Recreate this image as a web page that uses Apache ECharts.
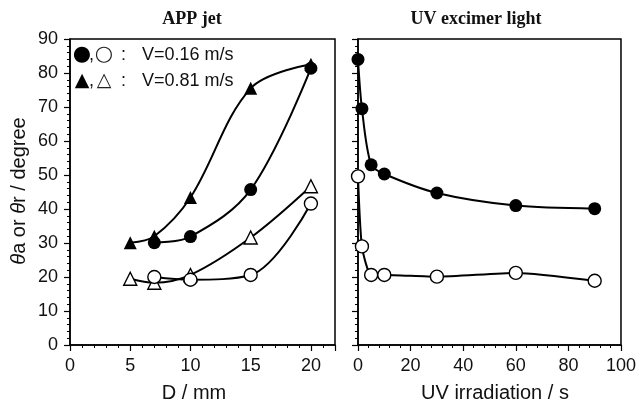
<!DOCTYPE html>
<html><head><meta charset="utf-8">
<script src="https://cdn.jsdelivr.net/npm/echarts@6/dist/echarts.min.js"></script>
<style>html,body{margin:0;padding:0;background:#fff}#c{width:639px;height:403px}</style>
</head><body><div id="c"></div>
<script>
// Left panel (APP jet): D / mm
const dFillCircle = [7, 10, 15, 20];
const vFillCircle = [30.1, 31.9, 45.7, 81.4];
const dFillTri = [5, 7, 10, 15, 20];
const vFillTri = [30.1, 32.0, 43.4, 75.5, 82.6];
const dOpenCircle = [7, 10, 15, 20];
const vOpenCircle = [20.0, 19.2, 20.6, 41.6];
const dOpenTri = [5, 7, 10, 15, 20];
const vOpenTri = [19.5, 18.3, 20.6, 31.6, 46.7];
// Right panel (UV excimer light)
const uvTime = [0, 1.5, 5, 10, 30, 60, 90];
const uvFill = [84.0, 69.5, 53.0, 50.3, 44.7, 41.0, 40.1];
const uvOpen = [49.6, 29.0, 20.6, 20.6, 20.1, 21.2, 18.9];
const yTicks = [0, 10, 20, 30, 40, 50, 60, 70, 80, 90];
const legendLines = [
  {fill: '●', open: '○', label: 'V=0.16 m/s'},
  {fill: '▲', open: '△', label: 'V=0.81 m/s'}
];

const zip = (a, b) => a.map((x, i) => [x, b[i]]);
const TF = 'Liberation Sans';
const axisCommon = {
  axisLine: {show: true, onZero: false, lineStyle: {color: '#000', width: 1.5}},
  axisTick: {show: true, inside: false, length: 6, lineStyle: {color: '#000', width: 1.2}},
  minorTick: {show: true, splitNumber: 5, length: 3, lineStyle: {color: '#000', width: 1}},
  splitLine: {show: false},
  axisLabel: {color: '#111', fontFamily: TF, fontSize: 18, margin: 12}
};
function lineSeries(xi, yi, data, symbol, filled, size, smooth) {
  return {
    type: 'line', xAxisIndex: xi, yAxisIndex: yi, data: data, smooth: smooth,
    symbol: symbol, symbolSize: size, showAllSymbol: true,
    lineStyle: {color: '#000', width: 2},
    itemStyle: {color: filled ? '#000' : '#fff', borderColor: '#000', borderWidth: filled ? 0 : 1.4},
    emphasis: {disabled: true}, animation: false, z: filled ? 3 : 2
  };
}
const graphics = [
  {type: 'text', x: 192, y: 19, silent: true, style: {text: 'APP jet', fontFamily: 'Liberation Serif', fontWeight: 'bold', fontSize: 18, fill: '#111', align: 'center', verticalAlign: 'middle'}},
  {type: 'text', x: 476, y: 19, silent: true, style: {text: 'UV excimer light', fontFamily: 'Liberation Serif', fontWeight: 'bold', fontSize: 18, fill: '#111', align: 'center', verticalAlign: 'middle'}},
  {type: 'text', x: 194, y: 393, silent: true, style: {text: 'D / mm', fontFamily: TF, fontSize: 20, fill: '#111', align: 'center', verticalAlign: 'middle'}},
  {type: 'text', x: 495, y: 393, silent: true, style: {text: 'UV irradiation / s', fontFamily: TF, fontSize: 20, fill: '#111', align: 'center', verticalAlign: 'middle'}},
  {type: 'text', x: 19, y: 191, rotation: Math.PI / 2, silent: true, style: {
    text: '{i|θ}{n|a or }{i|θ}{n|r / degree}', align: 'center', verticalAlign: 'middle',
    rich: {i: {fontFamily: TF, fontStyle: 'italic', fontSize: 20, fill: '#111'}, n: {fontFamily: TF, fontSize: 20, fill: '#111'}}}}
];
legendLines.forEach((l, i) => {
  const y = 55 + i * 26;
  const sz = i === 0 ? 21 : 19;
  graphics.push(
    {type: 'text', x: 82, y: y, silent: true, style: {text: l.fill, fontFamily: 'DejaVu Sans', fontSize: sz, fill: '#000', align: 'center', verticalAlign: 'middle'}},
    {type: 'text', x: 89, y: y, silent: true, style: {text: ',', fontFamily: TF, fontSize: 18, fill: '#111', verticalAlign: 'middle'}},
    {type: 'text', x: 104, y: y, silent: true, style: {text: l.open, fontFamily: 'DejaVu Sans', fontSize: sz, fill: '#222', align: 'center', verticalAlign: 'middle'}},
    {type: 'text', x: 121, y: y, silent: true, style: {text: ':', fontFamily: TF, fontSize: 18, fill: '#111', verticalAlign: 'middle'}},
    {type: 'text', x: 142, y: y, silent: true, style: {text: l.label, fontFamily: TF, fontSize: 18, fill: '#111', verticalAlign: 'middle'}}
  );
});
const chart = echarts.init(document.getElementById('c'));
chart.setOption({
  backgroundColor: '#fff',
  animation: false,
  grid: [
    {left: 70, top: 39, width: 265, height: 306, show: true, borderColor: '#000', borderWidth: 1.5, backgroundColor: 'transparent'},
    {left: 358, top: 39, width: 264, height: 306, show: true, borderColor: '#000', borderWidth: 1.5, backgroundColor: 'transparent'}
  ],
  xAxis: [
    Object.assign({}, axisCommon, {type: 'value', gridIndex: 0, min: 0, max: 22, interval: 5,
      axisLabel: Object.assign({}, axisCommon.axisLabel, {showMaxLabel: false, formatter: v => (v % 5 === 0 ? String(v) : '')})}),
    Object.assign({}, axisCommon, {type: 'value', gridIndex: 1, min: 0, max: 100, interval: 20})
  ],
  yAxis: [
    Object.assign({}, axisCommon, {type: 'value', gridIndex: 0, min: yTicks[0], max: yTicks[yTicks.length - 1], interval: 10}),
    Object.assign({}, axisCommon, {type: 'value', gridIndex: 1, min: yTicks[0], max: yTicks[yTicks.length - 1], interval: 10,
      axisLabel: {show: false}})
  ],
  series: [
    lineSeries(0, 0, zip(dOpenTri, vOpenTri), 'triangle', false, 13, 0.35),
    lineSeries(0, 0, zip(dOpenCircle, vOpenCircle), 'circle', false, 13, 0.35),
    lineSeries(0, 0, zip(dFillTri, vFillTri), 'triangle', true, 13, 0.35),
    lineSeries(0, 0, zip(dFillCircle, vFillCircle), 'circle', true, 13, 0.35),
    lineSeries(1, 1, zip(uvTime, uvOpen), 'circle', false, 13, 0.2),
    lineSeries(1, 1, zip(uvTime, uvFill), 'circle', true, 13, 0.3)
  ],
  graphic: graphics
});
</script></body></html>
